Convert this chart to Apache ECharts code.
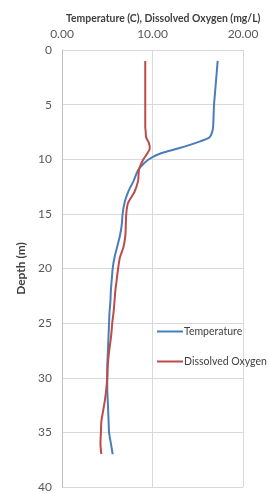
<!DOCTYPE html>
<html>
<head>
<meta charset="utf-8">
<script src="https://cdn.jsdelivr.net/npm/echarts@6/dist/echarts.min.js"></script>
<style>
html,body{margin:0;padding:0;background:#fff;}
#chart{width:269px;height:493px;}
</style>
</head>
<body>
<div id="chart"></div>
<script>
var depths = [1,2,3,4,5,6,7,7.5,8,8.5,9,9.5,10,10.5,11,12,13,14,15,16,17,18,19,20,21,22,23,24,25,26,27,28,29,30,31,32,33,34,35,36,37];
var temperature = [17.2,17.1,17.0,16.9,16.8,16.75,16.7,16.6,16.3,14.8,12.9,10.8,9.6,8.9,8.4,7.9,7.3,6.9,6.7,6.6,6.4,6.1,5.8,5.6,5.5,5.4,5.35,5.25,5.2,5.15,5.1,5.05,5.0,5.0,5.0,5.05,5.1,5.15,5.2,5.4,5.6];
var oxygen = [9.2,9.2,9.2,9.2,9.2,9.2,9.2,9.25,9.3,9.6,9.7,9.4,9.0,8.7,8.5,8.4,8.0,7.3,7.1,7.05,7.0,6.8,6.4,6.2,6.05,5.9,5.8,5.7,5.55,5.45,5.3,5.15,5.05,5.0,4.9,4.75,4.55,4.35,4.3,4.25,4.35];
var seriesNames = ['Temperature','Dissolved Oxygen'];

function pairs(vals){
	var out = [];
	for(var i=0;i<depths.length;i++){
		out.push([vals[i], depths[i]]);
	}
	return out;
}

window.onload=function(){
	var myChart = echarts.init(document.getElementById('chart'));
	var option = {
		animation:false,
		title:{
			text:'Temperature (C), Dissolved Oxygen (mg/L)',
			left:61, top:9,
			textStyle:{fontFamily:'Lato', fontSize:10.4, fontWeight:'bold', color:'#404040'}
		},
		legend:{
			orient:'vertical',
			left:152, top:321,
			itemGap:19,
			itemWidth:26, itemHeight:2,
			icon:'rect',
			data:seriesNames,
			textStyle:{fontFamily:'Lato', fontSize:10.5, color:'#404040', padding:[0,0,0,-4]}
		},
		grid:{left:62, right:26, top:50, bottom:4},
		xAxis:{
			type:'value', position:'top',
			min:0, max:20, interval:10,
			axisLine:{show:false},
			axisTick:{show:false},
			axisLabel:{formatter:function(v){return v.toFixed(2);}, fontFamily:'Lato', fontSize:12, color:'#595959', margin:10},
			splitLine:{show:true, lineStyle:{color:'#d9d9d9'}}
		},
		yAxis:{
			type:'value', inverse:true,
			min:0, max:40, interval:5,
			name:'Depth (m)', nameLocation:'middle', nameGap:32,
			nameTextStyle:{fontFamily:'Lato', fontSize:12, fontWeight:'bold', color:'#404040'},
			axisLine:{show:true, lineStyle:{color:'#bfbfbf'}},
			axisTick:{show:false},
			axisLabel:{fontFamily:'Lato', fontSize:12, color:'#595959', margin:10},
			splitLine:{show:true, lineStyle:{color:'#d9d9d9'}}
		},
		series:[
			{name:seriesNames[0], type:'line', data:pairs(temperature), showSymbol:false, smooth:0.3,
				lineStyle:{color:'#4a7ebb', width:2}, itemStyle:{color:'#4a7ebb'}},
			{name:seriesNames[1], type:'line', data:pairs(oxygen), showSymbol:false, smooth:0.3,
				lineStyle:{color:'#be4b48', width:2}, itemStyle:{color:'#be4b48'}}
		]
	};
	myChart.setOption(option);
}
</script>
</body>
</html>
